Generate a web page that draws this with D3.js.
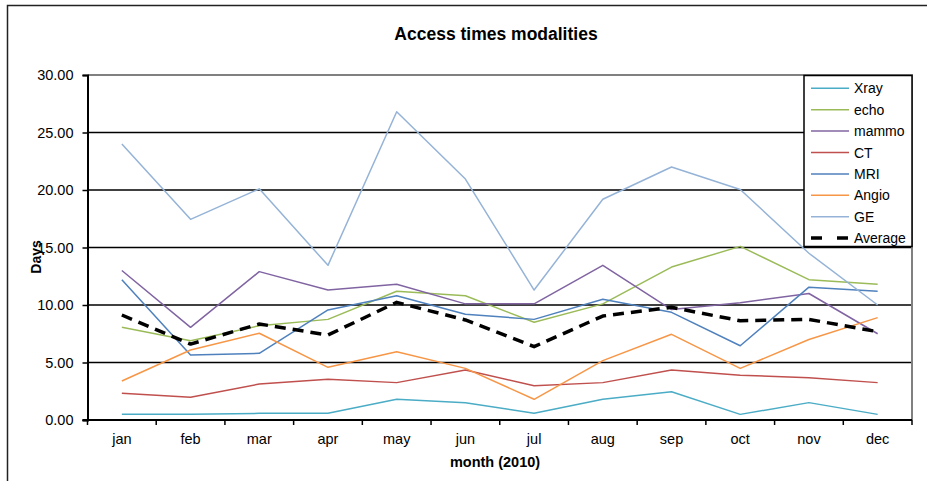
<!DOCTYPE html>
<html>
<head>
<meta charset="utf-8">
<script src="https://cdn.jsdelivr.net/npm/d3@7"></script>
<style>
  html, body { margin: 0; padding: 0; background: #fff; }
  svg { display: block; font-family: "Liberation Sans", Arial, sans-serif; }
</style>
</head>
<body>
<svg id="chart" width="927" height="481"></svg>
<script>
// Access times per modality, in days, for each month of 2010
const months = ["jan","feb","mar","apr","may","jun","jul","aug","sep","oct","nov","dec"];
const xray    = [0.49, 0.49, 0.58, 0.58, 1.80, 1.51, 0.58, 1.80, 2.46, 0.49, 1.51, 0.49];
const echo    = [8.06, 6.90, 8.20, 8.75, 11.20, 10.80, 8.50, 10.10, 13.30, 15.10, 12.20, 11.80];
const mammo   = [13.00, 8.06, 12.90, 11.30, 11.80, 10.10, 10.10, 13.45, 9.60, 10.20, 11.00, 7.50];
const ct      = [2.32, 1.97, 3.13, 3.54, 3.25, 4.35, 2.98, 3.25, 4.35, 3.90, 3.68, 3.25];
const mri     = [12.20, 5.65, 5.80, 9.57, 10.80, 9.20, 8.75, 10.50, 9.36, 6.46, 11.55, 11.20];
const angio   = [3.39, 6.09, 7.54, 4.58, 5.94, 4.49, 1.80, 5.16, 7.45, 4.49, 7.00, 8.90];
const ge      = [24.00, 17.45, 20.10, 13.45, 26.80, 20.95, 11.30, 19.20, 22.00, 20.05, 14.50, 10.00];
const average = [9.13, 6.60, 8.35, 7.39, 10.23, 8.70, 6.38, 9.04, 9.80, 8.63, 8.75, 7.68];
const yTicks  = [0, 5, 10, 15, 20, 25, 30];

const seriesNames  = ["Xray","echo","mammo","CT","MRI","Angio","GE","Average"];
const seriesValues = [xray, echo, mammo, ct, mri, angio, ge, average];
const seriesColors = ["#4BACC6","#9BBB59","#8064A2","#C0504D","#4F81BD","#F79646","#95B3D7","#000000"];

const svg = d3.select("#chart");
const plot = { left: 87.5, right: 912, top: 75, bottom: 420 };

// outer chart frame
svg.append("rect")
  .attr("x", 7.5).attr("y", 5.5).attr("width", 940).attr("height", 500)
  .attr("fill", "none").attr("stroke", "#222").attr("stroke-width", 1.5);

const x = d3.scaleBand().domain(months).range([plot.left, plot.right]);
const y = d3.scaleLinear().domain([0, 30]).range([plot.bottom, plot.top]);

// horizontal gridlines
svg.append("g").selectAll("line")
  .data(yTicks.filter(t => t > 0 && t < 30))
  .join("line")
  .attr("x1", plot.left).attr("x2", plot.right)
  .attr("y1", d => y(d)).attr("y2", d => y(d))
  .attr("stroke", "#000").attr("stroke-width", 1.5);

// plot area border (top and right)
svg.append("path")
  .attr("d", `M${plot.left},${y(30)}H${plot.right}V${plot.bottom}`)
  .attr("fill", "none").attr("stroke", "#808080").attr("stroke-width", 2);

// y axis
const yAxis = svg.append("g")
  .attr("transform", `translate(${plot.left},0)`)
  .call(d3.axisLeft(y).tickValues(yTicks).tickFormat(d3.format(".2f")).tickSize(5).tickPadding(9));
yAxis.select(".domain").attr("stroke", "#000").attr("stroke-width", 2);
yAxis.selectAll(".tick line").attr("stroke", "#000").attr("stroke-width", 1.5);
yAxis.selectAll(".tick text")
  .attr("font-family", "Liberation Sans, Arial, sans-serif")
  .attr("font-size", 14.5).attr("fill", "#000");

// x axis: ticks at category boundaries, labels at category centres
const xAxis = svg.append("g")
  .attr("transform", `translate(0,${plot.bottom})`)
  .call(d3.axisBottom(x).tickSize(0).tickPadding(14));
xAxis.select(".domain").attr("stroke", "#000").attr("stroke-width", 2)
  .attr("d", `M${plot.left - 5},0H${plot.right}`);
xAxis.selectAll(".tick text")
  .attr("font-family", "Liberation Sans, Arial, sans-serif")
  .attr("font-size", 14.5).attr("fill", "#000");
xAxis.selectAll("line.bound")
  .data(d3.range(months.length + 1))
  .join("line")
  .attr("class", "bound")
  .attr("x1", i => plot.left + i * x.step()).attr("x2", i => plot.left + i * x.step())
  .attr("y1", 0).attr("y2", 5)
  .attr("stroke", "#000").attr("stroke-width", 1.5);

// series lines
const line = d3.line()
  .x((d, i) => x(months[i]) + x.bandwidth() / 2)
  .y(d => y(d));

seriesValues.forEach((vals, k) => {
  const isAvg = seriesNames[k] === "Average";
  svg.append("path")
    .datum(vals)
    .attr("d", line)
    .attr("fill", "none")
    .attr("stroke", seriesColors[k])
    .attr("stroke-width", isAvg ? 3.5 : 1.5)
    .attr("stroke-dasharray", isAvg ? "11,7" : null)
    .attr("stroke-linejoin", "round");
});

// legend
const legend = svg.append("g");
legend.append("rect")
  .attr("x", 804).attr("y", 75.5).attr("width", 108).attr("height", 171)
  .attr("fill", "#fff").attr("stroke", "#000").attr("stroke-width", 1.5);
seriesNames.forEach((name, k) => {
  const ly = 88.3 + k * 21.4;
  const isAvg = name === "Average";
  legend.append("line")
    .attr("x1", 811).attr("x2", 849).attr("y1", ly).attr("y2", ly)
    .attr("stroke", seriesColors[k])
    .attr("stroke-width", isAvg ? 3.5 : 1.5)
    .attr("stroke-dasharray", isAvg ? "11,15" : null);
  legend.append("text")
    .attr("x", 854).attr("y", ly).attr("dy", "0.36em")
    .attr("font-size", 14).attr("fill", "#000")
    .text(name);
});

// titles
svg.append("text")
  .attr("x", 496).attr("y", 34).attr("dy", "0.36em")
  .attr("text-anchor", "middle")
  .attr("font-size", 17.5).attr("font-weight", "bold")
  .text("Access times modalities");

svg.append("text")
  .attr("x", 495).attr("y", 462).attr("dy", "0.36em")
  .attr("text-anchor", "middle")
  .attr("font-size", 14.5).attr("font-weight", "bold")
  .text("month (2010)");

svg.append("text")
  .attr("transform", "translate(36,257) rotate(-90)")
  .attr("dy", "0.36em")
  .attr("text-anchor", "middle")
  .attr("font-size", 14).attr("font-weight", "bold")
  .text("Days");
</script>
</body>
</html>
